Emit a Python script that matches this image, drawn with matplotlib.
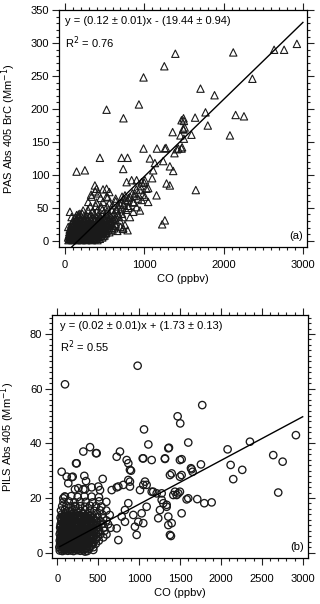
import matplotlib
matplotlib.use('Agg')
import matplotlib.pyplot as plt
from matplotlib.ticker import MultipleLocator
import numpy as np

plt.rcParams['font.family'] = ['Liberation Sans', 'DejaVu Sans']
plt.rcParams['font.size'] = 8

# ---- panel (a): PAS Abs 405 BrC vs CO ----
outliers_a = [(525, 199), (738, 186), (933, 207), (991, 248), (991, 140), (1253, 265), (1392, 284),
              (1160, 140), (1274, 141), (1413, 139), (1477, 142), (1358, 165), (1456, 160), (1495, 186),
              (1500, 182), (1495, 169), (1510, 172), (1500, 155), (1595, 161), (1641, 187), (1709, 231),
              (1772, 195), (1801, 175), (1886, 221), (2080, 160), (2122, 286), (2152, 191), (2257, 189),
              (2363, 246), (2637, 290), (2763, 290), (2924, 299),
              (441, 126), (714, 126), (790, 126), (147, 105), (252, 107), (735, 109), (1260, 140),
              (1381, 133), (1430, 140), (1470, 140), (1470, 183), (1491, 170), (1071, 125), (1134, 118),
              (1113, 107), (1239, 121), (1323, 113), (1365, 106), (1281, 87), (1323, 84), (1155, 69),
              (1260, 31), (1226, 25), (1650, 77), (378, 84), (399, 79), (525, 79), (336, 67), (294, 59),
              (525, 67), (63, 44), (84, 36), (147, 39), (189, 41), (42, 21)]
midband_a = [(778, 89), (841, 92), (904, 92), (967, 89), (1008, 92), (1029, 79), (946, 77), (882, 72),
             (820, 67), (757, 69), (967, 62), (1008, 67), (1050, 59), (904, 51), (946, 46), (862, 44),
             (820, 36), (757, 24), (736, 19), (850, 72), (900, 78), (950, 83), (1000, 88), (1050, 80),
             (980, 70), (920, 64), (870, 58), (1100, 95), (760, 62), (700, 55), (650, 48), (800, 50)]
cluster_a = [(45, 1), (70, 2), (95, 1), (120, 2), (150, 1), (180, 2), (210, 1), (240, 2), (270, 1), (305, 2),
             (340, 1), (375, 2), (410, 1),
             (40, 5), (65, 6), (90, 5), (115, 4), (140, 6), (165, 5), (195, 4), (225, 6), (255, 5), (285, 4),
             (320, 6), (355, 5), (390, 4), (430, 6), (470, 5),
             (50, 9), (75, 10), (100, 8), (130, 9), (160, 10), (190, 8), (220, 9), (250, 10), (280, 8),
             (310, 9), (345, 10), (380, 8), (420, 9), (460, 10), (500, 8),
             (55, 13), (85, 14), (110, 12), (140, 13), (170, 14), (200, 12), (235, 13), (265, 14), (295, 12),
             (330, 13), (365, 14), (400, 12), (440, 13), (480, 14), (520, 12), (560, 13),
             (60, 17), (90, 18), (120, 16), (150, 17), (185, 18), (215, 16), (245, 17), (280, 18), (315, 16),
             (350, 17), (390, 18), (430, 16), (470, 17), (510, 18), (550, 16), (600, 17), (660, 15),
             (730, 18), (790, 16),
             (70, 21), (100, 22), (135, 20), (165, 21), (200, 22), (235, 20), (270, 21), (305, 22), (340, 20),
             (380, 21), (420, 22), (460, 20), (500, 21), (540, 22), (590, 20), (640, 23), (700, 21),
             (80, 25), (115, 26), (150, 24), (190, 25), (225, 26), (260, 24), (300, 25), (340, 26), (380, 24),
             (420, 25), (460, 26), (500, 24), (545, 25), (590, 27), (640, 26),
             (100, 30), (140, 31), (180, 29), (220, 30), (260, 31), (300, 29), (340, 30), (380, 31), (420, 29),
             (460, 30), (500, 31), (545, 29), (590, 30), (640, 32), (690, 31),
             (130, 35), (175, 36), (220, 34), (265, 35), (310, 36), (355, 34), (400, 35), (445, 36), (490, 34),
             (535, 35), (580, 36), (630, 34), (680, 37), (730, 36),
             (170, 40), (220, 41), (270, 39), (320, 40), (370, 41), (420, 39), (470, 40), (520, 41), (570, 39),
             (620, 42), (670, 40), (720, 41),
             (230, 46), (290, 47), (350, 45), (410, 46), (470, 47), (530, 45), (590, 47), (650, 46), (710, 48),
             (770, 47),
             (320, 52), (390, 53), (460, 51), (530, 52), (600, 54), (670, 52), (740, 55), (800, 53),
             (400, 58), (480, 59), (560, 57), (640, 60), (720, 58), (790, 61), (860, 59),
             (450, 65), (540, 66), (640, 64), (720, 67), (800, 65), (880, 68),
             (330, 70), (380, 75), (420, 72), (480, 78), (560, 74)]
core_a = [(55, 3), (80, 3), (105, 3), (130, 3), (155, 3), (180, 3), (205, 3), (232, 3), (262, 3), (292, 3),
          (325, 3), (360, 3), (395, 3), (440, 3),
          (48, 7), (78, 7), (102, 7), (125, 7), (152, 7), (178, 7), (208, 7), (238, 7), (268, 7), (298, 7),
          (332, 7), (368, 7), (405, 7), (445, 7), (485, 7),
          (62, 11), (88, 11), (118, 11), (145, 11), (175, 11), (205, 11), (232, 11), (262, 11), (290, 11),
          (322, 11), (356, 11), (392, 11), (430, 11), (470, 11), (510, 11),
          (68, 15), (98, 15), (128, 15), (158, 15), (190, 15), (222, 15), (252, 15), (285, 15), (320, 15),
          (355, 15), (395, 15), (435, 15), (475, 15), (525, 15),
          (78, 19), (108, 19), (142, 19), (172, 19), (208, 19), (240, 19), (275, 19), (312, 19), (348, 19),
          (388, 19), (428, 19), (468, 19), (515, 19), (565, 19), (620, 19),
          (95, 23), (128, 23), (160, 23), (198, 23), (232, 23), (268, 23), (305, 23), (342, 23), (382, 23),
          (422, 23), (462, 23), (505, 23), (550, 23), (600, 23),
          (110, 27), (148, 27), (188, 27), (228, 27), (268, 27), (308, 27), (348, 27), (390, 27), (430, 27),
          (472, 27), (515, 27), (560, 27),
          (150, 33), (195, 33), (240, 33), (285, 33), (330, 33), (375, 33), (420, 33), (465, 33), (512, 33),
          (558, 33), (605, 33)]
slope_a, icpt_a = 0.117, -19.44
fit_x_a = [60, 3000]

# ---- panel (b): PILS Abs 405 vs CO ----
outliers_b = [(94, 61.6), (982, 68.4), (400, 38.6), (766, 37.0), (1060, 45.1), (1113, 39.6), (1365, 38.4),
              (1471, 49.9), (1503, 47.3), (1601, 40.3), (1772, 54.0), (2082, 37.8), (2355, 40.6), (2917, 43.0),
              (53, 29.6), (115, 27.8), (134, 25.4), (237, 32.7), (188, 27.8), (257, 23.6), (339, 23.2),
              (420, 23.9), (318, 37.0), (481, 36.4), (726, 35.1), (848, 33.9), (868, 32.7), (888, 30.3),
              (1051, 34.5), (1154, 33.9), (1316, 34.5), (1499, 33.9), (1072, 26.0), (1051, 24.8),
              (1173, 22.3), (1215, 21.7), (1276, 21.7), (1276, 19.3), (1377, 28.4), (1398, 29.0),
              (1499, 27.8), (1520, 28.4), (1438, 22.3), (1459, 21.1), (1418, 21.1), (1499, 22.3),
              (1337, 17.5), (1255, 15.6), (1234, 12.6), (1520, 14.4), (1357, 13.2), (1398, 10.8),
              (1389, 6.1), (970, 6.5), (1581, 19.5), (1601, 19.9), (1711, 19.6), (1797, 18.1), (1887, 18.4),
              (1634, 30.9), (1654, 29.6), (1756, 32.3), (2119, 32.1), (2151, 26.9), (2261, 30.3),
              (2640, 35.7), (2755, 33.3), (2701, 22.0), (1520, 34.2), (1642, 30.5),
              (473, 36.4), (229, 32.7), (330, 28.1), (351, 26.2), (176, 27.6), (555, 27.0), (888, 26.0),
              (868, 26.6), (807, 24.8), (746, 24.2), (888, 24.2), (1092, 24.8), (216, 23.2), (318, 23.2),
              (94, 20.5), (73, 19.9), (501, 24.2), (522, 22.9), (665, 22.9), (726, 23.9), (1011, 22.9),
              (1154, 22.3), (1296, 18.1), (1337, 16.8), (1357, 10.1), (1479, 21.7), (1377, 6.5),
              (1092, 16.8), (1031, 14.4), (929, 13.8), (868, 18.1), (827, 15.6), (787, 13.2), (827, 11.3),
              (990, 11.3), (1051, 10.8), (949, 9.5), (726, 8.9), (746, 4.6), (339, 0.4), (440, 1.0),
              (216, 16.8), (94, 13.0), (901, 30.0), (1044, 34.5), (1357, 38.2), (1316, 34.3)]
cluster_b = [(30, 0.8), (62, 0.6), (95, 0.9), (128, 0.7), (166, 0.8), (198, 0.6), (242, 0.9), (281, 0.7),
             (318, 0.8), (366, 0.6),
             (25, 2.0), (52, 2.2), (80, 1.9), (112, 2.1), (141, 2.0), (172, 2.3), (204, 1.9), (241, 2.1),
             (276, 2.0), (311, 2.2), (352, 1.8), (393, 2.1), (441, 2.0),
             (35, 3.2), (66, 3.4), (94, 3.1), (126, 3.3), (157, 3.2), (189, 3.0), (226, 3.4), (261, 3.2),
             (296, 3.1), (334, 3.3), (377, 3.2), (419, 3.0), (472, 3.3),
             (30, 4.4), (56, 4.6), (86, 4.3), (114, 4.5), (146, 4.4), (176, 4.2), (211, 4.6), (244, 4.4),
             (282, 4.3), (319, 4.5), (362, 4.4), (404, 4.2), (456, 4.6), (508, 4.4),
             (41, 5.6), (69, 5.8), (101, 5.5), (131, 5.7), (161, 5.6), (196, 5.4), (229, 5.8), (266, 5.6),
             (306, 5.5), (344, 5.7), (391, 5.6), (438, 5.4), (496, 5.8), (562, 5.6),
             (30, 6.8), (61, 7.0), (89, 6.7), (121, 6.9), (151, 6.8), (186, 6.6), (219, 7.0), (256, 6.8),
             (291, 6.7), (331, 6.9), (374, 6.8), (421, 6.6), (471, 7.0), (528, 6.8), (601, 6.7),
             (46, 8.0), (74, 8.2), (106, 7.9), (134, 8.1), (171, 8.0), (204, 7.8), (241, 8.2), (274, 8.0),
             (316, 7.9), (354, 8.1), (401, 8.0), (449, 7.8), (511, 8.2), (579, 8.0),
             (35, 9.2), (66, 9.4), (94, 9.1), (126, 9.3), (159, 9.2), (196, 9.0), (231, 9.4), (269, 9.2),
             (311, 9.1), (349, 9.3), (396, 9.2), (444, 9.0), (501, 9.4), (569, 9.2), (651, 9.1),
             (41, 10.4), (76, 10.6), (109, 10.3), (146, 10.5), (179, 10.4), (216, 10.2), (254, 10.6),
             (296, 10.4), (339, 10.3), (386, 10.5), (434, 10.4), (491, 10.2), (554, 10.6), (621, 10.4),
             (51, 11.6), (84, 11.8), (121, 11.5), (154, 11.7), (196, 11.6), (234, 11.4), (276, 11.8),
             (319, 11.6), (366, 11.5), (414, 11.7), (471, 11.6), (529, 11.4), (601, 11.8),
             (40, 12.8), (81, 13.0), (114, 12.7), (156, 12.9), (194, 12.8), (241, 12.6), (284, 13.0),
             (331, 12.8), (379, 12.7), (436, 12.9), (494, 12.8), (561, 12.6),
             (55, 14.0), (96, 14.2), (134, 13.9), (181, 14.1), (224, 14.0), (271, 13.8), (319, 14.2),
             (371, 14.0), (424, 13.9), (486, 14.1), (549, 14.0), (641, 13.8),
             (45, 15.4), (91, 15.6), (134, 15.3), (186, 15.5), (234, 15.4), (286, 15.2), (339, 15.6),
             (396, 15.4), (454, 15.3), (521, 15.5), (599, 15.4),
             (60, 17.0), (111, 17.2), (164, 16.9), (221, 17.1), (279, 17.0), (341, 16.8), (399, 17.2),
             (471, 17.0), (539, 16.9),
             (75, 18.6), (141, 18.8), (209, 18.5), (281, 18.7), (349, 18.6), (431, 18.4), (511, 18.8),
             (599, 18.6),
             (90, 20.5), (171, 20.7), (249, 20.4), (331, 20.6), (419, 20.5), (509, 20.3)]
core_b = [(40, 1.4), (75, 1.4), (110, 1.4), (148, 1.4), (182, 1.4), (222, 1.4), (260, 1.4), (300, 1.4),
          (342, 1.4), (390, 1.4),
          (38, 2.6), (68, 2.6), (98, 2.6), (128, 2.6), (160, 2.6), (190, 2.6), (222, 2.6), (258, 2.6),
          (292, 2.6), (330, 2.6), (372, 2.6), (418, 2.6),
          (45, 3.8), (72, 3.8), (104, 3.8), (136, 3.8), (168, 3.8), (200, 3.8), (234, 3.8), (270, 3.8),
          (308, 3.8), (348, 3.8), (392, 3.8), (438, 3.8),
          (36, 5.0), (62, 5.0), (92, 5.0), (122, 5.0), (154, 5.0), (186, 5.0), (218, 5.0), (252, 5.0),
          (290, 5.0), (330, 5.0), (372, 5.0), (420, 5.0), (475, 5.0),
          (48, 6.2), (78, 6.2), (108, 6.2), (140, 6.2), (172, 6.2), (206, 6.2), (240, 6.2), (276, 6.2),
          (316, 6.2), (358, 6.2), (404, 6.2), (452, 6.2),
          (38, 7.4), (68, 7.4), (98, 7.4), (128, 7.4), (160, 7.4), (194, 7.4), (230, 7.4), (266, 7.4),
          (304, 7.4), (344, 7.4), (390, 7.4), (440, 7.4), (495, 7.4),
          (52, 8.6), (84, 8.6), (116, 8.6), (150, 8.6), (186, 8.6), (222, 8.6), (258, 8.6), (296, 8.6),
          (336, 8.6), (378, 8.6), (424, 8.6), (474, 8.6),
          (44, 9.8), (76, 9.8), (108, 9.8), (142, 9.8), (176, 9.8), (212, 9.8), (250, 9.8), (290, 9.8),
          (330, 9.8), (374, 9.8), (422, 9.8), (472, 9.8),
          (60, 11.0), (96, 11.0), (132, 11.0), (170, 11.0), (210, 11.0), (250, 11.0), (292, 11.0),
          (336, 11.0), (382, 11.0), (430, 11.0), (486, 11.0),
          (50, 12.2), (90, 12.2), (130, 12.2), (172, 12.2), (214, 12.2), (258, 12.2), (302, 12.2),
          (350, 12.2), (400, 12.2), (452, 12.2),
          (70, 13.4), (112, 13.4), (156, 13.4), (202, 13.4), (248, 13.4), (296, 13.4), (346, 13.4),
          (398, 13.4)]
slope_b, icpt_b = 0.016, 1.73
fit_x_b = [30, 3000]

co_a, brc_a = np.array(outliers_a + midband_a + cluster_a + core_a, dtype=float).T
co_b, pils_b = np.array(outliers_b + cluster_b + core_b, dtype=float).T

fig = plt.figure(figsize=(3.2, 6.04), dpi=100)
ax1 = fig.add_axes([0.184, 0.591, 0.775, 0.392])
ax2 = fig.add_axes([0.1625, 0.0762, 0.80, 0.402])


def style(ax, xmaj, xmin_, ymaj, ymin_, xpad):
    ax.xaxis.set_major_locator(MultipleLocator(xmaj))
    ax.xaxis.set_minor_locator(MultipleLocator(xmin_))
    ax.yaxis.set_major_locator(MultipleLocator(ymaj))
    ax.yaxis.set_minor_locator(MultipleLocator(ymin_))
    ax.tick_params(which='both', direction='out', top=True, right=True, width=0.8, color='#222222')
    ax.tick_params(which='major', length=5)
    ax.tick_params(which='minor', length=2.5)
    ax.tick_params(axis='x', pad=xpad)
    ax.tick_params(axis='y', pad=2)
    for sp in ax.spines.values():
        sp.set_linewidth(0.9)


ax1.scatter(co_a, brc_a, marker='^', s=28, facecolors='none', edgecolors='#1a1a1a', linewidths=0.8)
fx = np.array(fit_x_a, dtype=float)
ax1.plot(fx, slope_a * fx + icpt_a, color='black', lw=1)
ax1.set_xlim(-76, 3050)
ax1.set_ylim(-9.5, 350)
style(ax1, 1000, 100, 50, 10, 4.5)
ax1.set_xlabel('CO (ppbv)', labelpad=3)
ax1.set_ylabel('PAS Abs 405 BrC (Mm$^{-1}$)')
ax1.yaxis.set_label_coords(-0.165, 0.5)
ax1.text(0.024, 0.975, 'y = (0.12 ± 0.01)x - (19.44 ± 0.94)', transform=ax1.transAxes, va='top', ha='left')
ax1.text(0.024, 0.90, 'R$^2$ = 0.76', transform=ax1.transAxes, va='top', ha='left')
ax1.text(0.985, 0.025, '(a)', transform=ax1.transAxes, va='bottom', ha='right')

ax2.scatter(co_b, pils_b, marker='o', s=28, facecolors='none', edgecolors='#1a1a1a', linewidths=0.95)
fx = np.array(fit_x_b, dtype=float)
ax2.plot(fx, slope_b * fx + icpt_b, color='black', lw=1)
ax2.set_xlim(-65, 3065)
ax2.set_ylim(-1.94, 86.9)
style(ax2, 500, 100, 20, 2, 6.5)
ax2.set_xlabel('CO (ppbv)', labelpad=3)
ax2.set_ylabel('PILS Abs 405 (Mm$^{-1}$)')
ax2.yaxis.set_label_coords(-0.135, 0.5)
ax2.text(0.03, 0.975, 'y = (0.02 ± 0.01)x + (1.73 ± 0.13)', transform=ax2.transAxes, va='top', ha='left')
ax2.text(0.03, 0.905, 'R$^2$ = 0.55', transform=ax2.transAxes, va='top', ha='left')
ax2.text(0.985, 0.025, '(b)', transform=ax2.transAxes, va='bottom', ha='right')

fig.savefig('out.png', dpi=100)
